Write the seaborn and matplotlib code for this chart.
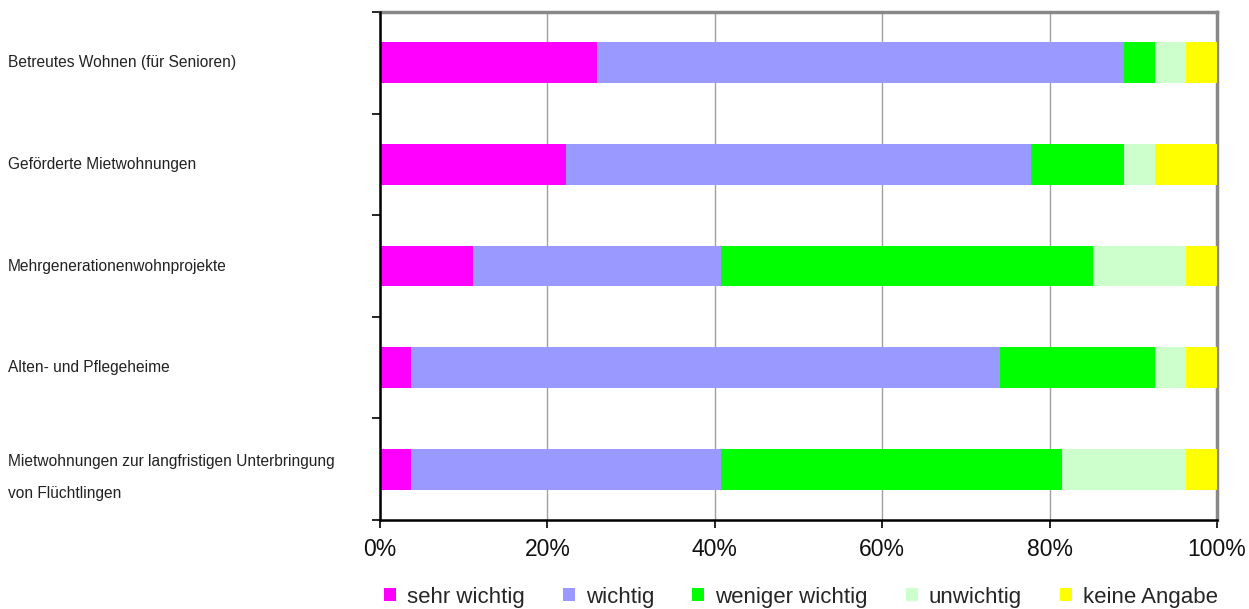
import matplotlib
matplotlib.use("Agg")
import matplotlib.pyplot as plt
import matplotlib.transforms as mtransforms
from matplotlib.patches import Patch
import numpy as np
import pandas as pd
import seaborn as sns

categories = [
    "Betreutes Wohnen (für Senioren)",
    "Geförderte Mietwohnungen",
    "Mehrgenerationenwohnprojekte",
    "Alten- und Pflegeheime",
    "Mietwohnungen zur langfristigen Unterbringung\nvon Flüchtlingen",
]
series = ["sehr wichtig", "wichtig", "weniger wichtig", "unwichtig", "keine Angabe"]
sehr_wichtig = [25.9, 22.2, 11.1, 3.7, 3.7]
wichtig = [63.0, 55.6, 29.6, 70.4, 37.0]
weniger_wichtig = [3.7, 11.1, 44.4, 18.5, 40.7]
unwichtig = [3.7, 3.7, 11.1, 3.7, 14.8]
keine_angabe = [3.7, 7.4, 3.7, 3.7, 3.7]
colors = ["#FF00FF", "#9999FF", "#00FF00", "#CCFFCC", "#FFFF00"]
xticks = [0, 20, 40, 60, 80, 100]
xticklabels = ["0%", "20%", "40%", "60%", "80%", "100%"]

values = [sehr_wichtig, wichtig, weniger_wichtig, unwichtig, keine_angabe]
cum = np.cumsum(np.array(values), axis=0)
cum = cum / cum[-1] * 100.0

sns.set_style("white")
plt.rcParams["font.family"] = ["Liberation Sans", "DejaVu Sans"]

fig = plt.figure(figsize=(12.49, 6.09), dpi=100)
ax = fig.add_axes([380 / 1249, 1 - 520 / 609, (1217 - 380) / 1249, (520 - 12) / 609])

for i in range(len(series) - 1, -1, -1):
    df = pd.DataFrame({"cat": categories, "val": cum[i]})
    sns.barplot(data=df, x="val", y="cat", orient="h", color=colors[i],
                width=0.4, ax=ax, saturation=1, linewidth=0, edgecolor="none", zorder=3)

ax.set_xlim(0, 100)
ax.set_ylim(len(categories) - 0.5, -0.5)
ax.set_xlabel("")
ax.set_ylabel("")
ax.set_xticks(xticks)
ax.set_xticklabels(xticklabels, fontsize=16.5, color="#111111")
ax.set_yticks(np.arange(len(categories) + 1) - 0.5)
ax.set_yticklabels([])
ax.tick_params(axis="both", direction="out", length=6, width=1.2, color="black",
               left=True, bottom=True, pad=7)
ax.grid(axis="x", color="#A0A0A0", linewidth=1, zorder=0)
ax.grid(axis="y", visible=False)
ax.set_axisbelow(True)

for s in ["left", "bottom"]:
    ax.spines[s].set_color("black")
    ax.spines[s].set_linewidth(1.8)
    ax.spines[s].set_zorder(5)
for s in ["top", "right"]:
    ax.spines[s].set_color("#888888")
    ax.spines[s].set_linewidth(2.5)
    ax.spines[s].set_visible(True)

trans = mtransforms.blended_transform_factory(fig.transFigure, ax.transData)
for i, c in enumerate(categories):
    off = 0.084 if "\n" in c else 0.0
    ax.text(8 / 1249, i + off, c, transform=trans, ha="left", va="center",
            fontsize=11.2, color="#222222", linespacing=2.45)

handles = [Patch(facecolor=colors[i], edgecolor="none", label=series[i]) for i in range(len(series))]
fig.legend(handles=handles, loc="center", bbox_to_anchor=(801 / 1249, 1 - 597 / 609), ncol=5,
           frameon=False, fontsize=16, handlelength=0.54, handleheight=0.54,
           handletextpad=0.5, columnspacing=1.7, borderaxespad=0, borderpad=0)

fig.savefig("out.png", dpi=100)
